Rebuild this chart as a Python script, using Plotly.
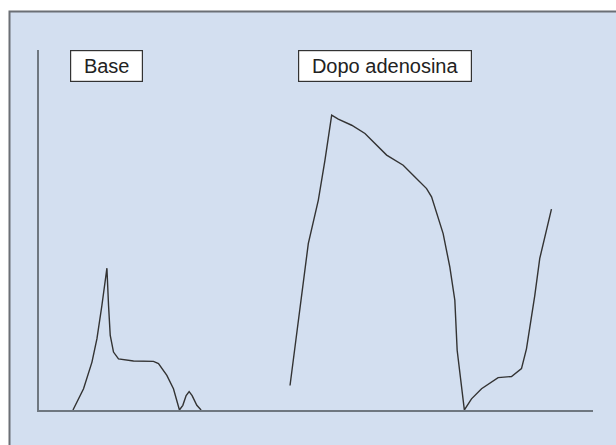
import plotly.graph_objects as go

# Flow velocity traces (time in arbitrary units, velocity in % of axis height)
base_time = [61.3, 80.4, 95.6, 104.6, 113.6, 122.6, 125.5, 128.6, 134.5, 143.5,
             170.6, 206.6, 215.7, 230.8, 242.7, 248.8, 253.5, 259.6, 265.6,
             271.0, 276.4, 284.9, 292.6]
base_vel = [0.0, 5.9, 13.3, 19.8, 29.1, 39.4, 29.1, 20.7, 16.1, 14.2,
            13.6, 13.5, 12.9, 9.6, 5.9, 2.6, 0.0, 1.3, 4.0,
            5.1, 4.0, 1.3, 0.0]

dopo_time = [453.1, 471.2, 486.1, 504.2, 516.2, 528.3, 540.2, 564.4, 588.4,
             627.5, 657.4, 675.4, 699.6, 708.6, 729.5, 741.6, 750.6, 754.8,
             767.8, 780.7, 798.8, 828.7, 852.9, 870.9, 879.9, 894.9, 903.9, 925.0]
dopo_vel = [6.8, 28.6, 46.2, 58.3, 69.4, 81.9, 80.8, 79.1, 76.8,
            70.8, 68.0, 65.2, 61.5, 59.2, 49.0, 39.7, 30.5, 16.6,
            0.0, 3.1, 5.9, 9.0, 9.3, 11.5, 17.0, 31.8, 42.1, 55.8]

labels = ["Base", "Dopo adenosina"]

line_color = "#333333"
panel_color = "#d3dff0"

fig = go.Figure()
fig.add_trace(go.Scatter(x=base_time, y=base_vel, mode="lines",
                         line=dict(color=line_color, width=1.4), showlegend=False,
                         hoverinfo="skip"))
fig.add_trace(go.Scatter(x=dopo_time, y=dopo_vel, mode="lines",
                         line=dict(color=line_color, width=1.4), showlegend=False,
                         hoverinfo="skip"))

W, H = 616, 445
ml, mr, mt, mb = 39, 23, 50, 35
pw, ph = W - ml - mr, H - mt - mb

# background panel (extends beyond right/bottom edges)
fig.add_shape(type="rect", xref="paper", yref="paper",
              x0=(9.5 - ml) / pw, x1=(W + 20 - ml) / pw,
              y0=-(mb + 20) / ph, y1=1 + (mt - 11.5) / ph,
              fillcolor=panel_color, line=dict(color="#6b6f75", width=2),
              layer="below")

font = dict(family="Liberation Sans, Arial, sans-serif", size=20, color="#222222")
fig.add_annotation(text=labels[0], xref="paper", yref="paper",
                   x=(106.3 - ml) / pw, y=1.0, xanchor="center", yanchor="top",
                   showarrow=False, font=font, bgcolor="white",
                   bordercolor="#333333", borderwidth=1.2, borderpad=0,
                   width=71, height=30)
fig.add_annotation(text=labels[1], xref="paper", yref="paper",
                   x=(384.5 - ml) / pw, y=1.0, xanchor="center", yanchor="top",
                   showarrow=False, font=font, bgcolor="white",
                   bordercolor="#333333", borderwidth=1.2, borderpad=0,
                   width=172, height=30)

axis_common = dict(showgrid=False, zeroline=False, showticklabels=False,
                   ticks="", showline=True, linecolor="#6f7780", linewidth=2)
fig.update_xaxes(range=[0, 1000], **axis_common)
fig.update_yaxes(range=[0, 100], **axis_common)

fig.update_layout(width=W, height=H,
                  margin=dict(l=ml, r=mr, t=mt, b=mb),
                  paper_bgcolor="white", plot_bgcolor="rgba(0,0,0,0)")

fig.write_html("out.html",
               config={"displayModeBar": False, "staticPlot": True},
               post_script="document.body.style.margin='0';"
                           "document.body.style.overflow='hidden';")
